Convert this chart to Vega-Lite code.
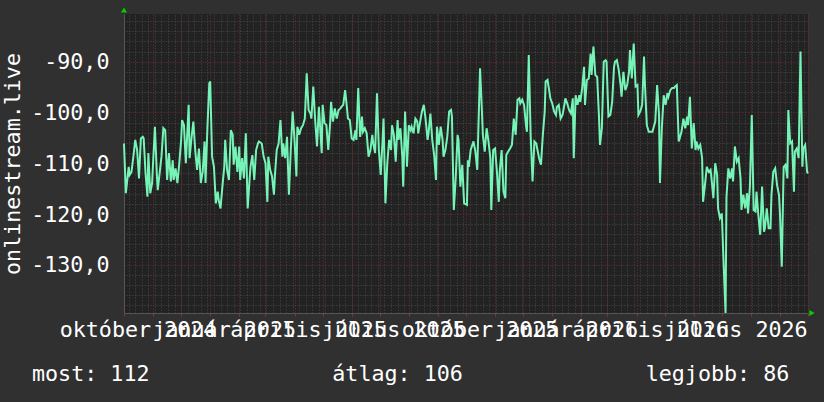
{
"$schema":"https://vega.github.io/schema/vega-lite/v6.json",
"autosize":"none",
"width":684,"height":299,
"padding":{"left":124,"top":14,"right":16,"bottom":89},
"background":"#303030",
"title":{"text":"most: 112\u00a0\u00a0\u00a0\u00a0\u00a0\u00a0\u00a0\u00a0\u00a0\u00a0\u00a0\u00a0\u00a0\u00a0átlag: 106\u00a0\u00a0\u00a0\u00a0\u00a0\u00a0\u00a0\u00a0\u00a0\u00a0\u00a0\u00a0\u00a0\u00a0legjobb: 86","orient":"bottom","anchor":"start","frame":"group","font":"DejaVu Sans Mono","fontSize":21.7,"fontWeight":"normal","color":"#ffffff","dx":-92,"offset":23},
"datasets":{"signal":[
{"d":"2024-10-01","v":-106.1},{"d":"2024-10-03","v":-115.9},{"d":"2024-10-06","v":-110.7},{"d":"2024-10-07","v":-112.3},{"d":"2024-10-09","v":-111.7},{"d":"2024-10-11","v":-108.7},{"d":"2024-10-13","v":-105.4},{"d":"2024-10-15","v":-107.4},{"d":"2024-10-17","v":-113},{"d":"2024-10-19","v":-105.1},{"d":"2024-10-21","v":-104.8},{"d":"2024-10-22","v":-105.1},{"d":"2024-10-24","v":-112},{"d":"2024-10-26","v":-116.6},{"d":"2024-10-27","v":-108},{"d":"2024-10-29","v":-115.9},{"d":"2024-10-31","v":-113.9},
{"d":"2024-11-01","v":-110},{"d":"2024-11-03","v":-102.8},{"d":"2024-11-05","v":-112},{"d":"2024-11-06","v":-115.3},{"d":"2024-11-08","v":-112},{"d":"2024-11-10","v":-108.7},{"d":"2024-11-12","v":-103.1},{"d":"2024-11-14","v":-103.5},{"d":"2024-11-16","v":-113.3},{"d":"2024-11-17","v":-110.7},{"d":"2024-11-18","v":-108},{"d":"2024-11-20","v":-113.6},{"d":"2024-11-22","v":-109.4},{"d":"2024-11-23","v":-113.3},{"d":"2024-11-25","v":-111},{"d":"2024-11-27","v":-113.9},{"d":"2024-11-29","v":-110},
{"d":"2024-12-01","v":-105.4},{"d":"2024-12-02","v":-101.5},{"d":"2024-12-04","v":-102.5},{"d":"2024-12-06","v":-110},{"d":"2024-12-09","v":-98.5},{"d":"2024-12-10","v":-109},{"d":"2024-12-12","v":-105.1},{"d":"2024-12-14","v":-101.8},{"d":"2024-12-16","v":-107.4},{"d":"2024-12-18","v":-111.3},{"d":"2024-12-20","v":-107.1},{"d":"2024-12-22","v":-113.9},{"d":"2024-12-24","v":-111.7},{"d":"2024-12-26","v":-105.7},{"d":"2024-12-27","v":-113.9},{"d":"2024-12-29","v":-103.1},{"d":"2024-12-31","v":-94.3},
{"d":"2025-01-01","v":-93.9},{"d":"2025-01-03","v":-108.7},{"d":"2025-01-05","v":-110.7},{"d":"2025-01-07","v":-117.9},{"d":"2025-01-09","v":-115.6},{"d":"2025-01-10","v":-117.2},{"d":"2025-01-12","v":-118.9},{"d":"2025-01-14","v":-114.6},{"d":"2025-01-16","v":-110.7},{"d":"2025-01-17","v":-105.4},{"d":"2025-01-19","v":-111.3},{"d":"2025-01-21","v":-113.3},{"d":"2025-01-23","v":-103.5},{"d":"2025-01-25","v":-104.4},{"d":"2025-01-26","v":-110.3},{"d":"2025-01-28","v":-106.7},{"d":"2025-01-30","v":-111.7},
{"d":"2025-02-01","v":-106.7},{"d":"2025-02-02","v":-113.3},{"d":"2025-02-04","v":-109},{"d":"2025-02-06","v":-113},{"d":"2025-02-08","v":-104.1},{"d":"2025-02-10","v":-118.9},{"d":"2025-02-12","v":-113.3},{"d":"2025-02-13","v":-110.7},{"d":"2025-02-15","v":-108.4},{"d":"2025-02-17","v":-113.3},{"d":"2025-02-19","v":-107.4},{"d":"2025-02-21","v":-106.1},{"d":"2025-02-22","v":-105.7},{"d":"2025-02-25","v":-106.1},{"d":"2025-02-27","v":-108.7},
{"d":"2025-03-01","v":-110},{"d":"2025-03-03","v":-117.6},{"d":"2025-03-04","v":-108.7},{"d":"2025-03-06","v":-111.3},{"d":"2025-03-08","v":-112.6},{"d":"2025-03-10","v":-116.2},{"d":"2025-03-11","v":-112.6},{"d":"2025-03-13","v":-107.4},{"d":"2025-03-15","v":-106.1},{"d":"2025-03-17","v":-101.5},{"d":"2025-03-19","v":-108.7},{"d":"2025-03-20","v":-106.1},{"d":"2025-03-22","v":-109},{"d":"2025-03-24","v":-104.8},{"d":"2025-03-26","v":-116.2},{"d":"2025-03-28","v":-107.4},{"d":"2025-03-30","v":-99.8},
{"d":"2025-04-01","v":-105.4},{"d":"2025-04-03","v":-112.6},{"d":"2025-04-04","v":-102.8},{"d":"2025-04-06","v":-104.4},{"d":"2025-04-08","v":-103.1},{"d":"2025-04-10","v":-102.5},{"d":"2025-04-12","v":-101.2},{"d":"2025-04-14","v":-92.3},{"d":"2025-04-16","v":-99.5},{"d":"2025-04-18","v":-100.2},{"d":"2025-04-19","v":-101.2},{"d":"2025-04-21","v":-94.9},{"d":"2025-04-23","v":-101.5},{"d":"2025-04-25","v":-106.7},{"d":"2025-04-27","v":-98.9},{"d":"2025-04-28","v":-101.8},{"d":"2025-04-30","v":-108},
{"d":"2025-05-01","v":-98.5},{"d":"2025-05-03","v":-102.1},{"d":"2025-05-05","v":-102.5},{"d":"2025-05-07","v":-107.4},{"d":"2025-05-09","v":-102.1},{"d":"2025-05-10","v":-97.9},{"d":"2025-05-12","v":-101.8},{"d":"2025-05-14","v":-99.2},{"d":"2025-05-16","v":-101.2},{"d":"2025-05-18","v":-99.5},{"d":"2025-05-20","v":-99.2},{"d":"2025-05-21","v":-98.9},{"d":"2025-05-23","v":-98.5},{"d":"2025-05-25","v":-95.6},{"d":"2025-05-27","v":-99.2},{"d":"2025-05-28","v":-101.2},{"d":"2025-05-30","v":-101.5},
{"d":"2025-06-01","v":-105.1},{"d":"2025-06-03","v":-105.4},{"d":"2025-06-05","v":-103.5},{"d":"2025-06-06","v":-105.4},{"d":"2025-06-08","v":-95.2},{"d":"2025-06-10","v":-104.8},{"d":"2025-06-12","v":-100.8},{"d":"2025-06-13","v":-103.8},{"d":"2025-06-15","v":-103.1},{"d":"2025-06-17","v":-104.1},{"d":"2025-06-19","v":-108.7},{"d":"2025-06-21","v":-107.4},{"d":"2025-06-23","v":-104.4},{"d":"2025-06-24","v":-106.1},{"d":"2025-06-26","v":-108},{"d":"2025-06-28","v":-96.2},{"d":"2025-06-30","v":-107.4},
{"d":"2025-07-02","v":-112.3},{"d":"2025-07-04","v":-105.4},{"d":"2025-07-05","v":-101.2},{"d":"2025-07-07","v":-117.9},{"d":"2025-07-09","v":-110},{"d":"2025-07-11","v":-105.4},{"d":"2025-07-13","v":-107.4},{"d":"2025-07-14","v":-102.5},{"d":"2025-07-16","v":-104.4},{"d":"2025-07-18","v":-109.7},{"d":"2025-07-20","v":-101.5},{"d":"2025-07-21","v":-105.4},{"d":"2025-07-23","v":-103.1},{"d":"2025-07-25","v":-108.7},{"d":"2025-07-26","v":-114.6},{"d":"2025-07-28","v":-99.8},{"d":"2025-07-30","v":-110.7},
{"d":"2025-08-01","v":-102.5},{"d":"2025-08-03","v":-103.5},{"d":"2025-08-04","v":-102.8},{"d":"2025-08-06","v":-104.1},{"d":"2025-08-08","v":-101.2},{"d":"2025-08-10","v":-101.8},{"d":"2025-08-11","v":-104.1},{"d":"2025-08-14","v":-100.8},{"d":"2025-08-15","v":-99.8},{"d":"2025-08-17","v":-98.5},{"d":"2025-08-19","v":-101.5},{"d":"2025-08-21","v":-105.4},{"d":"2025-08-22","v":-104.1},{"d":"2025-08-24","v":-100.2},{"d":"2025-08-26","v":-105.4},{"d":"2025-08-28","v":-108.4},{"d":"2025-08-30","v":-113.3},{"d":"2025-08-31","v":-102.8},
{"d":"2025-09-02","v":-106.4},{"d":"2025-09-04","v":-102.8},{"d":"2025-09-06","v":-105.4},{"d":"2025-09-07","v":-108.7},{"d":"2025-09-09","v":-107.4},{"d":"2025-09-11","v":-104.8},{"d":"2025-09-13","v":-99.8},{"d":"2025-09-15","v":-99.5},{"d":"2025-09-16","v":-100.8},{"d":"2025-09-18","v":-119.2},{"d":"2025-09-20","v":-113},{"d":"2025-09-22","v":-104.4},{"d":"2025-09-23","v":-105.4},{"d":"2025-09-25","v":-114.6},{"d":"2025-09-27","v":-110.3},{"d":"2025-09-29","v":-117.9},
{"d":"2025-10-02","v":-118.2},{"d":"2025-10-03","v":-109.4},{"d":"2025-10-04","v":-110.7},{"d":"2025-10-06","v":-107.4},{"d":"2025-10-09","v":-105.7},{"d":"2025-10-11","v":-107.7},{"d":"2025-10-13","v":-111.3},{"d":"2025-10-16","v":-91.3},{"d":"2025-10-18","v":-99.8},{"d":"2025-10-19","v":-104.4},{"d":"2025-10-21","v":-107.7},{"d":"2025-10-23","v":-103.1},{"d":"2025-10-25","v":-105.7},{"d":"2025-10-27","v":-109},{"d":"2025-10-28","v":-119.2},{"d":"2025-10-30","v":-107.4},
{"d":"2025-11-01","v":-107.1},{"d":"2025-11-03","v":-111.7},{"d":"2025-11-05","v":-117.6},{"d":"2025-11-06","v":-111.7},{"d":"2025-11-08","v":-107.4},{"d":"2025-11-10","v":-115.6},{"d":"2025-11-12","v":-116.9},{"d":"2025-11-13","v":-108.4},{"d":"2025-11-15","v":-107.7},{"d":"2025-11-17","v":-107.1},{"d":"2025-11-19","v":-106.4},{"d":"2025-11-21","v":-101.2},{"d":"2025-11-23","v":-104.4},{"d":"2025-11-25","v":-97.5},{"d":"2025-11-27","v":-97.2},{"d":"2025-11-28","v":-98.2},{"d":"2025-11-30","v":-97.5},
{"d":"2025-12-02","v":-98.5},{"d":"2025-12-04","v":-102.5},{"d":"2025-12-05","v":-103.8},{"d":"2025-12-07","v":-88.7},{"d":"2025-12-09","v":-104.4},{"d":"2025-12-11","v":-113.6},{"d":"2025-12-13","v":-105.7},{"d":"2025-12-15","v":-106.1},{"d":"2025-12-16","v":-107.1},{"d":"2025-12-18","v":-109},{"d":"2025-12-20","v":-110.3},{"d":"2025-12-22","v":-104.4},{"d":"2025-12-24","v":-99.8},{"d":"2025-12-25","v":-93.9},{"d":"2025-12-27","v":-93.6},{"d":"2025-12-29","v":-95.9},{"d":"2025-12-30","v":-97.2},
{"d":"2026-01-01","v":-98.2},{"d":"2026-01-03","v":-99.8},{"d":"2026-01-05","v":-100.5},{"d":"2026-01-06","v":-98.9},{"d":"2026-01-08","v":-98.5},{"d":"2026-01-10","v":-101.2},{"d":"2026-01-12","v":-100.5},{"d":"2026-01-14","v":-98.5},{"d":"2026-01-15","v":-97.2},{"d":"2026-01-17","v":-98.2},{"d":"2026-01-19","v":-99.5},{"d":"2026-01-21","v":-100.2},{"d":"2026-01-23","v":-97.2},{"d":"2026-01-24","v":-109},{"d":"2026-01-26","v":-96.6},{"d":"2026-01-28","v":-98.5},{"d":"2026-01-30","v":-96.6},{"d":"2026-01-31","v":-97.9},
{"d":"2026-02-02","v":-95.2},{"d":"2026-02-04","v":-91},{"d":"2026-02-05","v":-98.5},{"d":"2026-02-07","v":-93.6},{"d":"2026-02-09","v":-93.3},{"d":"2026-02-11","v":-88.4},{"d":"2026-02-12","v":-92.6},{"d":"2026-02-14","v":-87},{"d":"2026-02-16","v":-92.6},{"d":"2026-02-18","v":-93},{"d":"2026-02-20","v":-101.2},{"d":"2026-02-21","v":-106.4},{"d":"2026-02-23","v":-103.1},{"d":"2026-02-25","v":-90},{"d":"2026-02-27","v":-89.7},{"d":"2026-02-28","v":-90},
{"d":"2026-03-02","v":-100.8},{"d":"2026-03-04","v":-100.5},{"d":"2026-03-06","v":-97.9},{"d":"2026-03-08","v":-91},{"d":"2026-03-09","v":-90},{"d":"2026-03-11","v":-89.7},{"d":"2026-03-13","v":-91.6},{"d":"2026-03-15","v":-94.6},{"d":"2026-03-16","v":-96.9},{"d":"2026-03-18","v":-92},{"d":"2026-03-20","v":-95.6},{"d":"2026-03-22","v":-94.6},{"d":"2026-03-24","v":-92},{"d":"2026-03-25","v":-87.7},{"d":"2026-03-27","v":-93.3},{"d":"2026-03-29","v":-86.4},{"d":"2026-03-31","v":-94.9},
{"d":"2026-04-02","v":-94.6},{"d":"2026-04-03","v":-100.5},{"d":"2026-04-05","v":-99.8},{"d":"2026-04-07","v":-98.5},{"d":"2026-04-09","v":-89},{"d":"2026-04-10","v":-94.6},{"d":"2026-04-12","v":-102.5},{"d":"2026-04-14","v":-103.8},{"d":"2026-04-16","v":-103.8},{"d":"2026-04-18","v":-103.8},{"d":"2026-04-19","v":-103.1},{"d":"2026-04-21","v":-101.8},{"d":"2026-04-23","v":-94.6},{"d":"2026-04-25","v":-100.5},{"d":"2026-04-26","v":-113.9},{"d":"2026-04-28","v":-103.1},{"d":"2026-04-30","v":-96.6},
{"d":"2026-05-02","v":-98.5},{"d":"2026-05-04","v":-96.2},{"d":"2026-05-05","v":-96.9},{"d":"2026-05-07","v":-95.6},{"d":"2026-05-09","v":-95.2},{"d":"2026-05-11","v":-95.2},{"d":"2026-05-12","v":-94.9},{"d":"2026-05-14","v":-94.6},{"d":"2026-05-16","v":-105.7},{"d":"2026-05-17","v":-105.1},{"d":"2026-05-19","v":-103.8},{"d":"2026-05-21","v":-101.2},{"d":"2026-05-23","v":-103.1},{"d":"2026-05-25","v":-100.8},{"d":"2026-05-26","v":-102.5},{"d":"2026-05-28","v":-96.9},{"d":"2026-05-30","v":-107.1},
{"d":"2026-06-01","v":-102.1},{"d":"2026-06-03","v":-107.4},{"d":"2026-06-04","v":-105.7},{"d":"2026-06-06","v":-107.1},{"d":"2026-06-08","v":-106.4},{"d":"2026-06-10","v":-109},{"d":"2026-06-11","v":-117.6},{"d":"2026-06-13","v":-114.3},{"d":"2026-06-15","v":-110.7},{"d":"2026-06-17","v":-111.7},{"d":"2026-06-19","v":-111.3},{"d":"2026-06-20","v":-113},{"d":"2026-06-22","v":-116.9},{"d":"2026-06-24","v":-110},{"d":"2026-06-26","v":-112.3},{"d":"2026-06-27","v":-118.9},{"d":"2026-06-29","v":-120.8},
{"d":"2026-07-01","v":-119.9},{"d":"2026-07-03","v":-130},{"d":"2026-07-05","v":-139.5},{"d":"2026-07-06","v":-116.6},{"d":"2026-07-08","v":-111},{"d":"2026-07-10","v":-113},{"d":"2026-07-12","v":-111},{"d":"2026-07-13","v":-113.6},{"d":"2026-07-15","v":-106.7},{"d":"2026-07-17","v":-109.7},{"d":"2026-07-19","v":-109},{"d":"2026-07-21","v":-113},{"d":"2026-07-22","v":-119.2},{"d":"2026-07-24","v":-116.2},{"d":"2026-07-26","v":-118.9},{"d":"2026-07-28","v":-115.9},{"d":"2026-07-29","v":-119.9},{"d":"2026-07-31","v":-114.6},
{"d":"2026-08-02","v":-100.5},{"d":"2026-08-04","v":-119.2},{"d":"2026-08-06","v":-119.5},{"d":"2026-08-07","v":-115.6},{"d":"2026-08-09","v":-120.2},{"d":"2026-08-11","v":-124.1},{"d":"2026-08-13","v":-114.6},{"d":"2026-08-15","v":-123.5},{"d":"2026-08-16","v":-122.8},{"d":"2026-08-18","v":-118.9},{"d":"2026-08-20","v":-122.8},{"d":"2026-08-22","v":-122.8},{"d":"2026-08-23","v":-116.2},{"d":"2026-08-25","v":-111.7},{"d":"2026-08-27","v":-111},{"d":"2026-08-29","v":-114.3},{"d":"2026-08-31","v":-116.2},
{"d":"2026-09-01","v":-119.5},{"d":"2026-09-03","v":-130.4},{"d":"2026-09-05","v":-110.7},{"d":"2026-09-07","v":-110.3},{"d":"2026-09-09","v":-113},{"d":"2026-09-10","v":-99.5},{"d":"2026-09-12","v":-106.1},{"d":"2026-09-14","v":-105.7},{"d":"2026-09-16","v":-115.6},{"d":"2026-09-17","v":-107.7},{"d":"2026-09-19","v":-107.1},{"d":"2026-09-21","v":-109},{"d":"2026-09-23","v":-88},{"d":"2026-09-25","v":-110.7},{"d":"2026-09-26","v":-107.1},{"d":"2026-09-28","v":-106.4},{"d":"2026-09-30","v":-111.7},{"d":"2026-10-01","v":-112}
]},
"layer":[
{
"data":{"name":"signal"},
"mark":{"type":"line","opacity":0},
"encoding":{
"x":{"field":"d","type":"temporal","scale":{"type":"utc","domain":[{"year":2024,"month":10,"date":1,"utc":true},{"year":2026,"month":10,"date":1,"utc":true}]},
"axis":{"orient":"top","tickCount":{"interval":"week","step":1},"grid":true,"gridColor":"#4a4a4a","gridDash":[1,2],"gridWidth":1,"labels":false,"ticks":false,"domain":false,"title":null}},
"y":{"field":"v","type":"quantitative","scale":{"domain":[-139.5,-80.6],"nice":false,"zero":false},
"axis":{"orient":"right","values":[-138,-136,-134,-132,-128,-126,-124,-122,-118,-116,-114,-112,-108,-106,-104,-102,-98,-96,-94,-92,-88,-86,-84,-82],"grid":true,"gridColor":"#4a4a4a","gridDash":[1,2],"gridWidth":1,"labels":false,"ticks":false,"domain":false,"title":null}}
}
},
{
"data":{"name":"signal"},
"mark":{"type":"line","color":"#76f4b7","strokeWidth":2,"interpolate":"linear"},
"encoding":{
"x":{"field":"d","type":"temporal","scale":{"type":"utc","domain":[{"year":2024,"month":10,"date":1,"utc":true},{"year":2026,"month":10,"date":1,"utc":true}]},
"axis":{"orient":"bottom","tickCount":{"interval":"month","step":1},"grid":true,"gridColor":"#6e2e2e","gridDash":[1,2],"gridWidth":1,"domain":true,"domainColor":"#555555","ticks":true,"tickColor":"#8a3030","tickSize":3,"labelOverlap":false,"labelBound":false,"labelFlush":false,"labelOffset":13.5,"labelPadding":3,"labelFont":"DejaVu Sans Mono","labelFontSize":21.7,"labelColor":"#ffffff","title":null,
"labelExpr":"(utcmonth(datum.value) % 3 == 0 && datum.value < utc(2026,8,1)) ? ['január','február','március','április','május','június','július','augusztus','szeptember','október','november','december'][utcmonth(datum.value)] + ' ' + utcyear(datum.value) : ''"}},
"y":{"field":"v","type":"quantitative","scale":{"domain":[-139.5,-80.6],"nice":false,"zero":false},
"axis":{"orient":"left","values":[-130,-120,-110,-100,-90],"grid":true,"gridColor":"#6e2e2e","gridDash":[1,2],"gridWidth":1,"domain":true,"domainColor":"#555555","ticks":false,"labelPadding":15,"labelFont":"DejaVu Sans Mono","labelFontSize":21.7,"labelColor":"#ffffff",
"labelExpr":"(datum.value < 0 ? '-' : '') + replace(format(abs(datum.value), '.1f'), '.', ',')",
"title":"onlinestream.live","titleFont":"DejaVu Sans Mono","titleFontSize":21.7,"titleFontWeight":"normal","titleColor":"#ffffff","titlePadding":6}}
}
},
{
"data":{"values":[{}]},
"mark":{"type":"point","shape":"triangle-up","filled":true,"color":"#00d000","opacity":1,"size":36,"yOffset":-4},
"encoding":{
"x":{"datum":{"year":2024,"month":10,"date":1,"utc":true},"type":"temporal","axis":null},
"y":{"datum":-80.6,"type":"quantitative","axis":null}
}
},
{
"data":{"values":[{}]},
"mark":{"type":"point","shape":"triangle-right","filled":true,"color":"#00d000","opacity":1,"size":36,"xOffset":4},
"encoding":{
"x":{"datum":{"year":2026,"month":10,"date":1,"utc":true},"type":"temporal","axis":null},
"y":{"datum":-139.5,"type":"quantitative","axis":null}
}
}
],
"resolve":{"axis":{"x":"independent","y":"independent"}},
"config":{"font":"DejaVu Sans Mono","view":{"fill":"#222222","stroke":null}}
}
